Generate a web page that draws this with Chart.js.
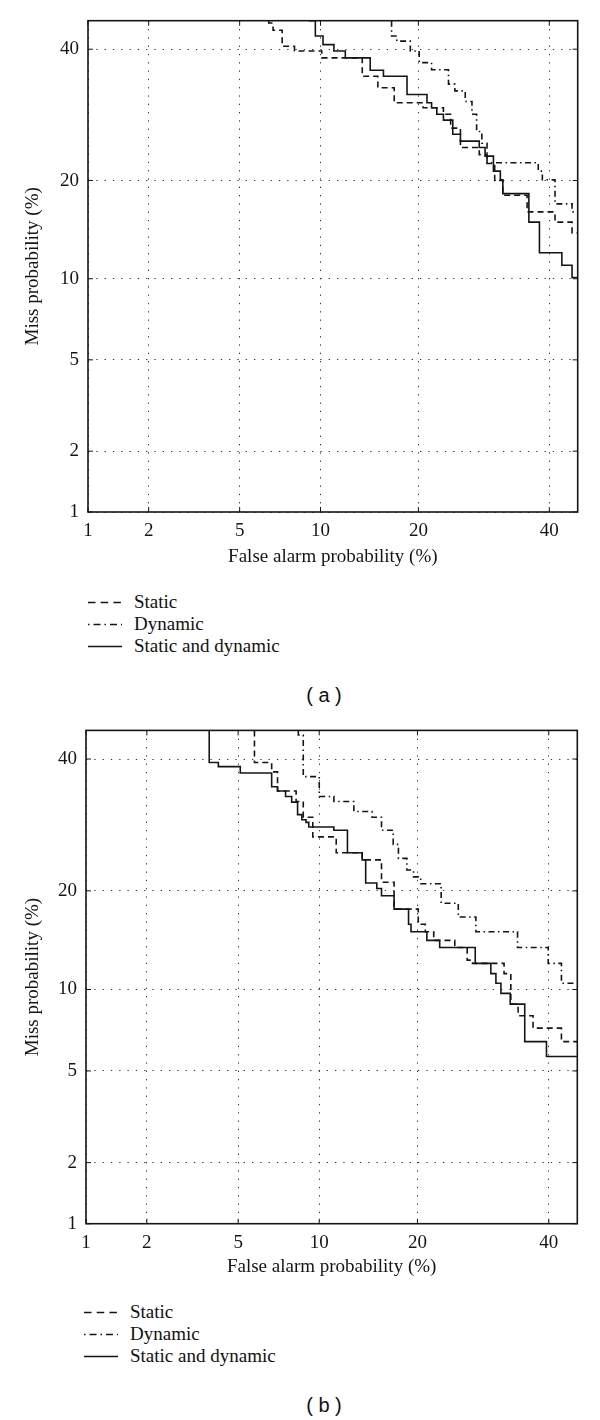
<!DOCTYPE html>
<html>
<head>
<meta charset="utf-8">
<script src="https://cdn.jsdelivr.net/npm/chart.js@4.4.0/dist/chart.umd.min.js"></script>
<style>
  body { margin: 0; background: #fff; }
  #page { position: relative; width: 600px; height: 1420px; overflow: hidden; }
  .box { position: absolute; left: 0; width: 600px; height: 580px; }
  .legend { position: absolute; font-family: "Liberation Serif", "DejaVu Serif", serif; font-size: 19px; color: #111; }
  .legend div { height: 22px; line-height: 22px; white-space: nowrap; }
  .legend svg { vertical-align: top; }
  .legend span { display: inline-block; vertical-align: top; }
  .panel { position: absolute; width: 600px; left: 23px; text-align: center; font-family: "Liberation Sans", Arial, sans-serif; font-size: 20px; line-height: 20px; color: #111; }
</style>
</head>
<body>
<div id="page">
  <div class="box" style="top:0"><canvas id="chartA"></canvas></div>
  <div class="legend" id="legA" style="top:591px; left:88px"></div>
  <div class="panel" style="top:685px; left:24px; width:600px">( a )</div>

  <div class="box" style="top:710px"><canvas id="chartB"></canvas></div>
  <div class="legend" id="legB" style="top:1301px; left:84px"></div>
  <div class="panel" style="top:1395px; left:24px; width:600px">( b )</div>
</div>
<script>
// axis values, in percent
var tickValues = [1, 2, 5, 10, 20, 40];
var axisMin = 1;
var axisMax = 45;

var seriesNames = ['Static', 'Dynamic', 'Static and dynamic'];

// panel (a): false alarm (%) / miss (%) at the end of each step
var aStaticFA = [6.5, 6.75, 7.3, 8.1, 10.1, 13.7, 15.3, 17.1, 20.6, 23.3, 24.3, 25.7, 28.5, 29.7, 30.9, 32.2, 36.2, 41.0, 44.0, 45];
var aStaticMiss = [45, 44.6, 43.3, 40.5, 39.7, 38.5, 35.4, 33.5, 31.1, 30.3, 29.3, 27.2, 24.4, 23.4, 22.2, 20.0, 18.2, 16.3, 15.2, 14.1];
var aDynamicFA = [16.8, 17.4, 19.0, 20.1, 21.7, 24.0, 24.9, 26.4, 27.4, 28.1, 28.9, 29.7, 38.1, 38.8, 41.0, 44.0, 45];
var aDynamicMiss = [45, 42.3, 41.4, 39.7, 37.7, 36.5, 34.1, 33.0, 31.3, 29.3, 26.7, 25.0, 22.3, 21.2, 20.1, 17.2, 16.3];
var aBothFA = [9.1, 9.6, 10.2, 11.1, 12.1, 14.5, 15.9, 18.6, 21.1, 21.7, 22.4, 23.3, 24.6, 25.7, 28.5, 29.4, 30.7, 31.8, 32.2, 36.5, 38.3, 42.2, 44.0, 45];
var aBothMiss = [45, 45, 42.3, 40.8, 39.7, 38.5, 36.4, 35.4, 32.4, 31.1, 30.3, 29.3, 28.4, 26.3, 25.3, 24.4, 23.2, 21.2, 20.1, 18.4, 15.2, 12.2, 11.1, 10.1];

// panel (b)
var bStaticFA = [5.8, 6.75, 7.1, 8.3, 8.8, 9.5, 11.4, 13.8, 15.8, 17.2, 20.1, 21.0, 22.1, 25.0, 26.8, 27.6, 32.5, 33.6, 34.8, 37.3, 42.2, 45];
var bStaticMiss = [45, 39.4, 37.8, 34.6, 32.9, 30.4, 27.4, 25.1, 24.1, 21.1, 17.8, 16.1, 15.3, 14.4, 13.7, 12.5, 12.2, 11.3, 8.9, 8.1, 7.3, 6.5];
var bDynamicFA = [8.45, 8.8, 10.0, 11.2, 13.0, 14.8, 15.8, 17.1, 17.7, 18.7, 19.5, 20.4, 23.1, 25.5, 28.1, 34.7, 39.9, 42.2, 45];
var bDynamicMiss = [45, 44.2, 37.0, 33.7, 32.9, 31.3, 30.4, 28.4, 26.3, 24.3, 22.7, 21.8, 20.9, 18.5, 16.9, 15.3, 13.7, 12.2, 10.5];
var bBothFA = [3.8, 4.15, 5.1, 6.75, 7.1, 7.6, 8.0, 8.4, 8.7, 9.0, 9.2, 11.2, 12.4, 13.8, 14.15, 15.3, 15.8, 17.2, 18.9, 19.2, 21.2, 22.9, 28.0, 30.4, 31.2, 32.0, 33.5, 35.9, 39.6, 45];
var bBothMiss = [45, 39.4, 38.7, 37.6, 35.3, 34.6, 33.7, 32.8, 30.8, 30.0, 29.6, 28.9, 28.4, 25.1, 24.1, 21.0, 20.3, 19.4, 17.8, 16.1, 15.3, 14.4, 13.7, 12.2, 11.3, 10.5, 9.7, 8.9, 6.5, 5.7];

var dashes = [[6, 4], [6, 3.5, 1.5, 3.5], []];
// legend samples: three dashes, and dot-dash-dot-dash
var legendDashes = [[7.5, 5.2], [1.5, 4, 7, 4], []];
var ink = '#151515';
var serif = '"Liberation Serif", "DejaVu Serif", serif';

// inverse normal cdf (Acklam), used for the DET axes
function probit(p) {
    var a = [-3.969683028665376e+01, 2.209460984245205e+02, -2.759285104469687e+02, 1.383577518672690e+02, -3.066479806614716e+01, 2.506628277459239e+00];
    var b = [-5.447609879822406e+01, 1.615858368580409e+02, -1.556989798598866e+02, 6.680131188771972e+01, -1.328068155288572e+01];
    var c = [-7.784894002430293e-03, -3.223964580411365e-01, -2.400758277161838e+00, -2.549732539343734e+00, 4.374664141464968e+00, 2.938163982698783e+00];
    var d = [7.784695709041462e-03, 3.224671290700398e-01, 2.445134137142996e+00, 3.754408661907416e+00];
    var q, r;
    if (p < 0.02425) {
        q = Math.sqrt(-2 * Math.log(p));
        return (((((c[0] * q + c[1]) * q + c[2]) * q + c[3]) * q + c[4]) * q + c[5]) / ((((d[0] * q + d[1]) * q + d[2]) * q + d[3]) * q + 1);
    }
    if (p <= 1 - 0.02425) {
        q = p - 0.5;
        r = q * q;
        return (((((a[0] * r + a[1]) * r + a[2]) * r + a[3]) * r + a[4]) * r + a[5]) * q / (((((b[0] * r + b[1]) * r + b[2]) * r + b[3]) * r + b[4]) * r + 1);
    }
    q = Math.sqrt(-2 * Math.log(1 - p));
    return -(((((c[0] * q + c[1]) * q + c[2]) * q + c[3]) * q + c[4]) * q + c[5]) / ((((d[0] * q + d[1]) * q + d[2]) * q + d[3]) * q + 1);
}

class ProbitScale extends Chart.LinearScale {
    determineDataLimits() {
        this.min = axisMin;
        this.max = axisMax;
    }
    buildTicks() {
        return tickValues.map(function (v) { return { value: v }; });
    }
    getPixelForValue(v) {
        var z0 = probit(this.min / 100);
        var z1 = probit(this.max / 100);
        return this.getPixelForDecimal((probit(v / 100) - z0) / (z1 - z0));
    }
}
ProbitScale.id = 'probit';
ProbitScale.defaults = {};
Chart.register(ProbitScale);

// plot frame plus small inward ticks on all four sides
var frame = {
    id: 'frame',
    afterDraw: function (chart) {
        var ctx = chart.ctx;
        var a = chart.chartArea;
        var xs = chart.scales.x;
        var ys = chart.scales.y;
        ctx.save();
        ctx.strokeStyle = ink;
        ctx.lineWidth = 1;
        tickValues.forEach(function (v) {
            var px = xs.getPixelForValue(v);
            var py = ys.getPixelForValue(v);
            ctx.beginPath();
            ctx.moveTo(px, a.bottom); ctx.lineTo(px, a.bottom - 5);
            ctx.moveTo(px, a.top); ctx.lineTo(px, a.top + 5);
            ctx.moveTo(a.left, py); ctx.lineTo(a.left + 5, py);
            ctx.moveTo(a.right, py); ctx.lineTo(a.right - 5, py);
            ctx.stroke();
        });
        ctx.lineWidth = 1.6;
        ctx.strokeRect(a.left, a.top, a.right - a.left, a.bottom - a.top);
        ctx.restore();
    }
};

function points(fa, miss) {
    return fa.map(function (x, i) { return { x: x, y: miss[i] }; });
}

function axis(title, size, pad, tPad) {
    return {
        type: 'probit',
        min: axisMin,
        max: axisMax,
        grid: { color: '#333', lineWidth: 1, drawTicks: false },
        border: { display: false, dash: [1.3, 7] },
        ticks: {
            autoSkip: false,
            maxRotation: 0,
            padding: pad,
            color: ink,
            font: { family: serif, size: 19 },
            callback: function (v) { return String(v); }
        },
        title: {
            display: true,
            text: title,
            color: ink,
            font: { family: serif, size: 19 },
            padding: tPad
        },
        afterFit: function (scale) {
            if (scale.isHorizontal()) {
                scale.height = size;
            } else {
                scale.width = size;
            }
        }
    };
}

function makeChart(id, sets, yWidth, xHeight, pad) {
    var ctx = document.getElementById(id);
    return new Chart(ctx, {
        type: 'line',
        data: {
            datasets: sets.map(function (s, i) {
                return {
                    label: seriesNames[i],
                    data: points(s[0], s[1]),
                    borderColor: ink,
                    borderWidth: 1.6,
                    borderDash: dashes[i],
                    stepped: 'after',
                    pointRadius: 0,
                    fill: false
                };
            })
        },
        options: {
            responsive: false,
            animation: false,
            layout: { padding: pad },
            plugins: { legend: { display: false }, tooltip: { enabled: false } },
            scales: {
                x: axis('False alarm probability (%)', xHeight, 8, { top: 0, bottom: 12 }),
                y: axis('Miss probability (%)', yWidth, 9, { top: 22, bottom: 0 })
            }
        },
        plugins: [frame]
    });
}

function legend(id) {
    var el = document.getElementById(id);
    seriesNames.forEach(function (name, i) {
        var row = document.createElement('div');
        var dash = legendDashes[i].length ? ' stroke-dasharray="' + legendDashes[i].join(' ') + '"' : '';
        row.innerHTML = '<svg width="34" height="22"><line x1="0" y1="11.5" x2="34" y2="11.5" stroke="' + ink + '" stroke-width="1.5"' + dash + '/></svg>' +
            '<span style="margin-left:12px">' + name + '</span>';
        el.appendChild(row);
    });
}

document.getElementById('chartA').width = 600;
document.getElementById('chartA').height = 580;
document.getElementById('chartB').width = 600;
document.getElementById('chartB').height = 580;

makeChart('chartA', [[aStaticFA, aStaticMiss], [aDynamicFA, aDynamicMiss], [aBothFA, aBothMiss]],
    88, 68, { top: 20.7, right: 22.3, left: 0, bottom: 0 });
makeChart('chartB', [[bStaticFA, bStaticMiss], [bDynamicFA, bDynamicMiss], [bBothFA, bBothMiss]],
    86, 66.3, { top: 20.3, right: 22.7, left: 0, bottom: 0 });

legend('legA');
legend('legB');
</script>
</body>
</html>
